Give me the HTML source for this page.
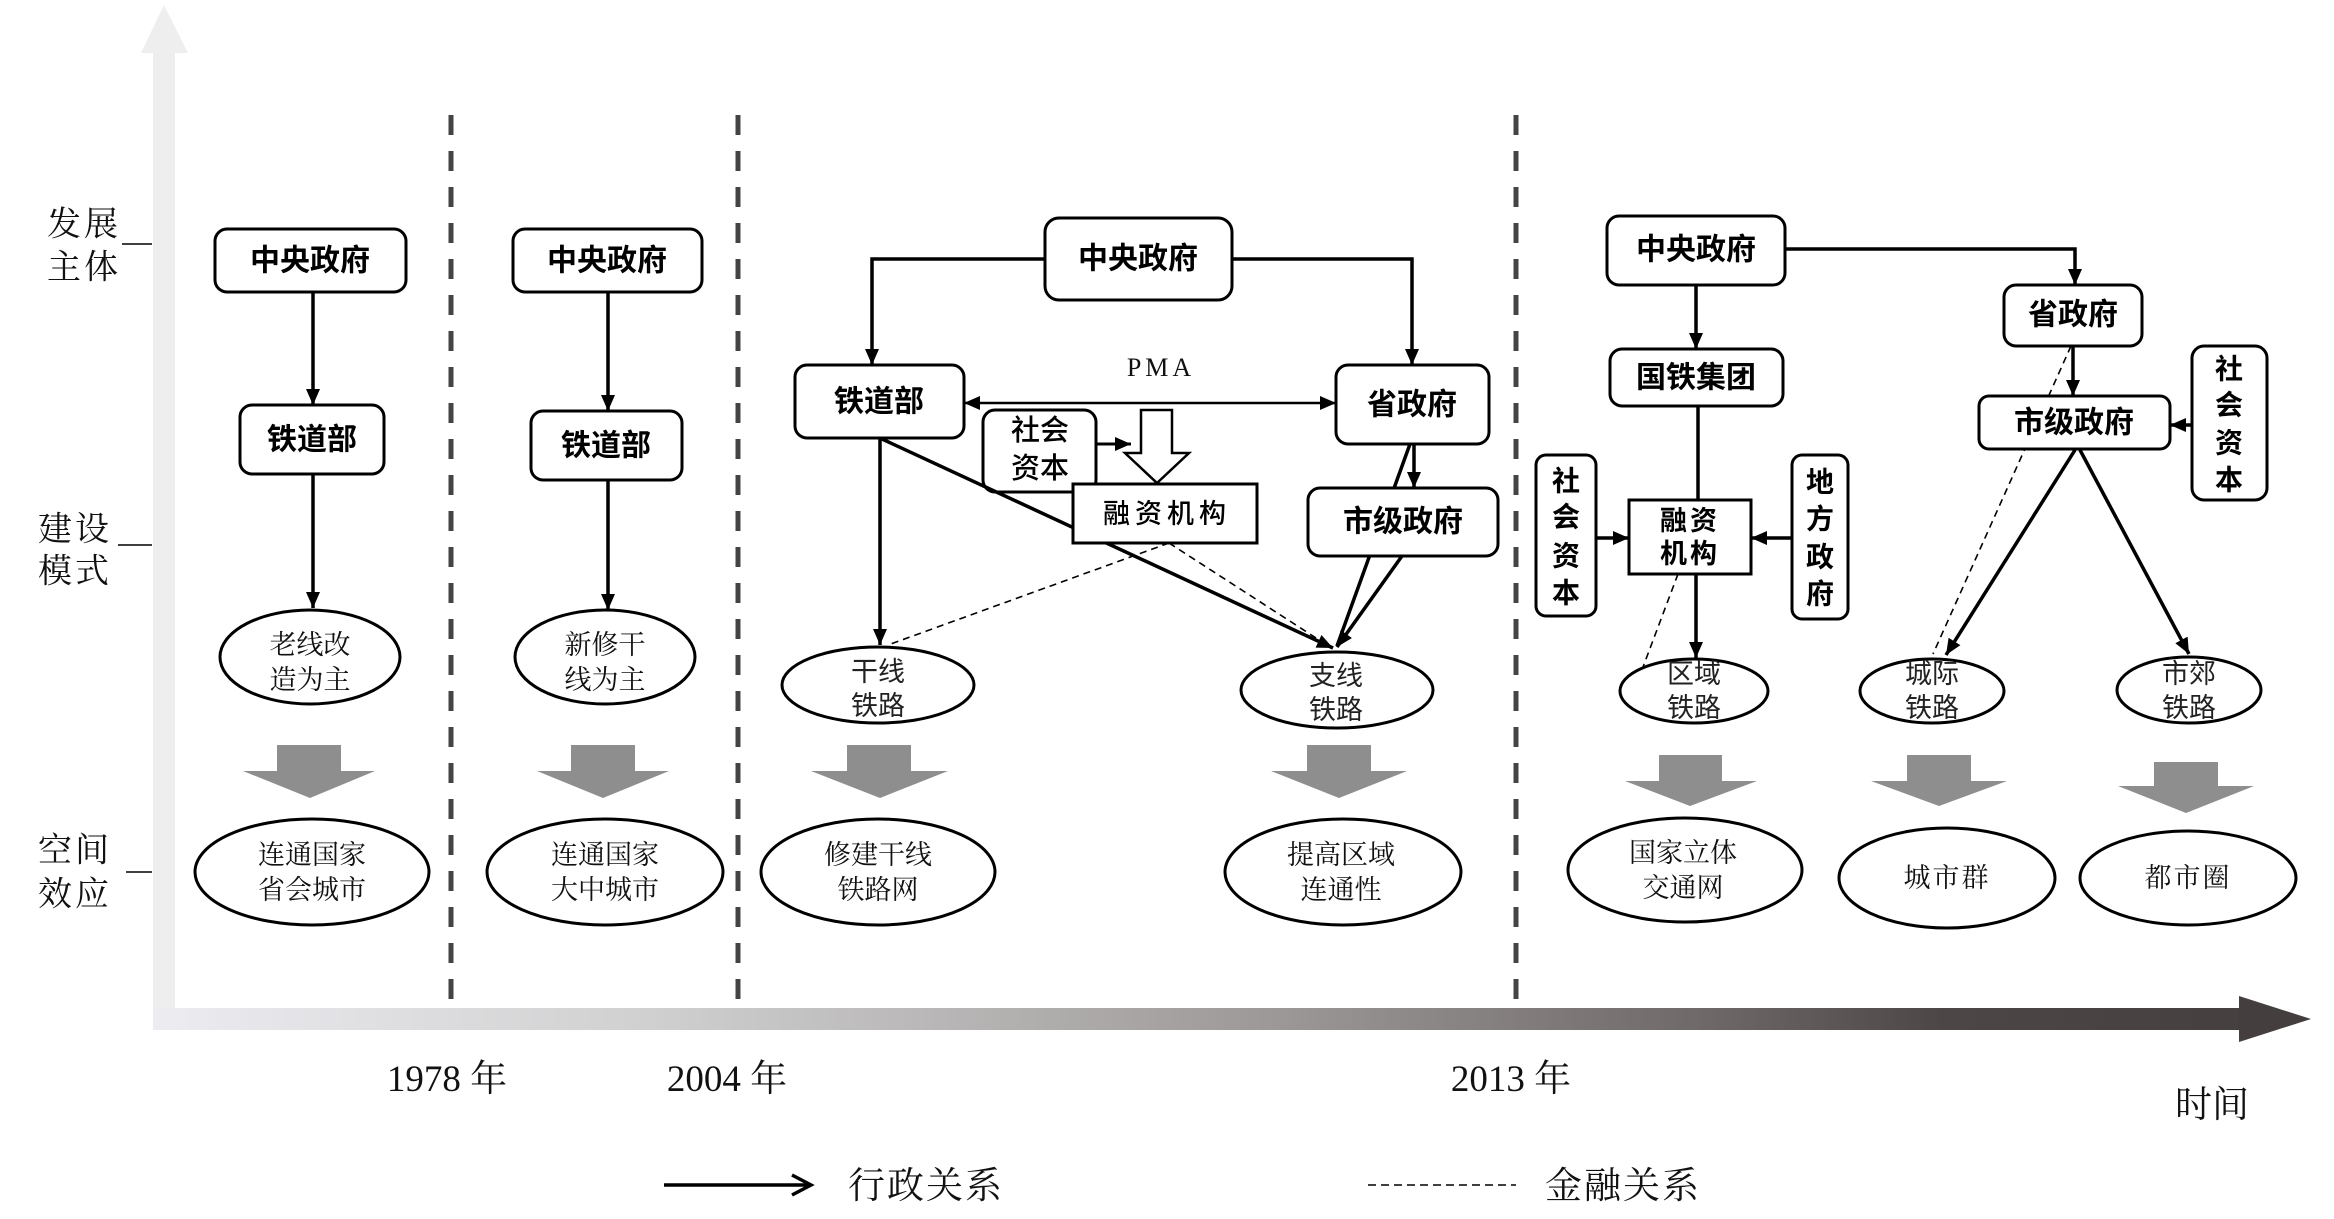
<!DOCTYPE html>
<html>
<head>
<meta charset="utf-8">
<style>
html,body{margin:0;padding:0;background:#fff;}
svg{display:block;}
.sans{font-family:"Liberation Sans","Noto Sans CJK SC","WenQuanYi Zen Hei",sans-serif;}
.serif{font-family:"Liberation Serif","Noto Serif CJK SC","Noto Sans CJK SC",serif;}
.bx{fill:#fff;stroke:#000;stroke-width:3;}
.el{fill:#fff;stroke:#000;stroke-width:3;}
.ln{stroke:#000;stroke-width:3.5;fill:none;}
.dl{stroke:#000;stroke-width:1.6;fill:none;stroke-dasharray:7 5;}
.sep{stroke:#444;stroke-width:5;stroke-dasharray:20 16;}
.bt{font-family:"Liberation Sans","Noto Sans CJK SC","WenQuanYi Zen Hei",sans-serif;font-weight:700;font-size:30px;fill:#000;text-anchor:middle;dominant-baseline:central;}
.mt{font-family:"Liberation Sans","Noto Sans CJK SC","WenQuanYi Zen Hei",sans-serif;font-weight:400;font-size:27px;fill:#222;text-anchor:middle;dominant-baseline:central;}
.st{font-family:"Liberation Serif","Noto Serif CJK SC","Noto Sans CJK SC",serif;font-size:27px;fill:#111;text-anchor:middle;dominant-baseline:central;}
.lt{font-family:"Liberation Serif","Noto Serif CJK SC","Noto Sans CJK SC",serif;font-size:34px;fill:#111;text-anchor:middle;dominant-baseline:central;letter-spacing:3px;}
.ga{fill:#8e8e8e;}
</style>
</head>
<body>
<svg width="2334" height="1219" viewBox="0 0 2334 1219" xmlns="http://www.w3.org/2000/svg">
<defs>
  <marker id="ah" markerUnits="userSpaceOnUse" markerWidth="16" markerHeight="14" refX="16" refY="7" orient="auto-start-reverse">
    <path d="M0,0 L16,7 L0,14 z" fill="#000"/>
  </marker>
  <linearGradient id="axg" x1="153" y1="0" x2="2311" y2="0" gradientUnits="userSpaceOnUse">
    <stop offset="0" stop-color="#ececf1"/>
    <stop offset="0.23" stop-color="#d0d0d0"/>
    <stop offset="0.52" stop-color="#9d9898"/>
    <stop offset="0.72" stop-color="#6e6868"/>
    <stop offset="0.83" stop-color="#4c4646"/>
    <stop offset="1" stop-color="#443e3e"/>
  </linearGradient>
</defs>

<!-- axes -->
<rect x="153" y="50" width="22" height="980" fill="#eeeeee"/>
<polygon points="141,53 164,5 188,53" fill="#eeeeee"/>
<rect x="153" y="1008" width="2087" height="22" fill="url(#axg)"/>
<polygon points="2239,996 2311,1019 2239,1042" fill="#443e3e"/>

<!-- separators -->
<line class="sep" x1="451" y1="115" x2="451" y2="1008"/>
<line class="sep" x1="738" y1="115" x2="738" y2="1008"/>
<line class="sep" x1="1516" y1="115" x2="1516" y2="1008"/>

<!-- left labels -->
<text class="lt" x="84" y="225">发展</text>
<text class="lt" x="84" y="268">主体</text>
<line x1="122" y1="244" x2="152" y2="244" stroke="#000" stroke-width="1.5"/>
<text class="lt" x="75" y="530">建设</text>
<text class="lt" x="75" y="572">模式</text>
<line x1="118" y1="545" x2="152" y2="545" stroke="#000" stroke-width="1.5"/>
<text class="lt" x="75" y="851">空间</text>
<text class="lt" x="75" y="895">效应</text>
<line x1="126" y1="872" x2="152" y2="872" stroke="#000" stroke-width="1.5"/>

<!-- ===== Column 1 ===== -->
<line class="ln" x1="313" y1="292" x2="313" y2="405" marker-end="url(#ah)"/>
<line class="ln" x1="313" y1="474" x2="313" y2="608" marker-end="url(#ah)"/>
<rect class="bx" x="215" y="229" width="191" height="63" rx="12"/>
<text class="bt" x="310" y="261">中央政府</text>
<rect class="bx" x="240" y="405" width="144" height="69" rx="12"/>
<text class="bt" x="312" y="440">铁道部</text>
<ellipse class="el" cx="310" cy="657" rx="90" ry="47"/>
<text class="st" x="310" y="645">老线改</text>
<text class="st" x="310" y="680">造为主</text>
<polygon class="ga" points="277,745 341,745 341,771 375,771 310,798 243,771 277,771"/>
<ellipse class="el" cx="312" cy="872" rx="117" ry="53"/>
<text class="st" x="312" y="855">连通国家</text>
<text class="st" x="312" y="890">省会城市</text>

<!-- ===== Column 2 ===== -->
<line class="ln" x1="608" y1="292" x2="608" y2="411" marker-end="url(#ah)"/>
<line class="ln" x1="608" y1="480" x2="608" y2="610" marker-end="url(#ah)"/>
<rect class="bx" x="513" y="229" width="189" height="63" rx="12"/>
<text class="bt" x="607" y="261">中央政府</text>
<rect class="bx" x="531" y="411" width="151" height="69" rx="12"/>
<text class="bt" x="606" y="446">铁道部</text>
<ellipse class="el" cx="605" cy="657" rx="90" ry="47"/>
<text class="st" x="605" y="645">新修干</text>
<text class="st" x="605" y="680">线为主</text>
<polygon class="ga" points="571,745 635,745 635,771 669,771 603,798 537,771 571,771"/>
<ellipse class="el" cx="605" cy="872" rx="118" ry="53"/>
<text class="st" x="605" y="855">连通国家</text>
<text class="st" x="605" y="890">大中城市</text>

<!-- ===== Column 3 ===== -->
<polyline class="ln" points="1045,259 872,259 872,365" marker-end="url(#ah)"/>
<polyline class="ln" points="1232,259 1412,259 1412,365" marker-end="url(#ah)"/>
<line class="ln" x1="880" y1="438" x2="880" y2="645" marker-end="url(#ah)"/>
<line class="ln" x1="1410" y1="444" x2="1337" y2="646"/>
<line class="ln" x1="1402" y1="556" x2="1337" y2="647" marker-end="url(#ah)"/>
<line class="dl" x1="1169" y1="543" x2="888" y2="645"/>
<line class="dl" x1="1169" y1="543" x2="1330" y2="647"/>
<line x1="964" y1="403" x2="1336" y2="403" stroke="#000" stroke-width="2.5" marker-start="url(#ah)" marker-end="url(#ah)"/>
<text x="1161" y="376" style="font-family:'Liberation Serif',serif;font-size:26px;letter-spacing:4px;fill:#111;" text-anchor="middle">PMA</text>

<rect class="bx" x="983" y="410" width="113" height="82" rx="12"/>
<text class="mt" x="1040" y="431" style="font-size:29px;fill:#000;font-weight:500">社会</text>
<text class="mt" x="1040" y="469" style="font-size:29px;fill:#000;font-weight:500">资本</text>
<line class="ln" x1="882" y1="439" x2="1333" y2="648" marker-end="url(#ah)"/>
<line x1="1096" y1="444" x2="1131" y2="444" stroke="#000" stroke-width="3" marker-end="url(#ah)"/>
<polygon points="1141,410 1172,410 1172,453 1189,453 1157,483 1125,453 1141,453" fill="#fff" stroke="#000" stroke-width="2.5"/>
<rect x="1073" y="484" width="184" height="59" fill="#fff" stroke="#000" stroke-width="3"/>
<text class="mt" x="1167" y="514" style="font-size:27px;fill:#000;font-weight:500;letter-spacing:5px">融资机构</text>

<rect class="bx" x="1045" y="218" width="187" height="82" rx="14"/>
<text class="bt" x="1138" y="259">中央政府</text>
<rect class="bx" x="795" y="365" width="169" height="73" rx="12"/>
<text class="bt" x="879" y="402">铁道部</text>
<rect class="bx" x="1336" y="365" width="153" height="79" rx="12"/>
<text class="bt" x="1412" y="405">省政府</text>
<line class="ln" x1="1414" y1="444" x2="1414" y2="488" marker-end="url(#ah)"/>
<rect class="bx" x="1308" y="488" width="190" height="68" rx="12"/>
<text class="bt" x="1403" y="522">市级政府</text>

<ellipse class="el" cx="878" cy="685" rx="96" ry="38"/>
<text class="mt" x="878" y="672">干线</text>
<text class="mt" x="878" y="706">铁路</text>
<ellipse class="el" cx="1337" cy="690" rx="96" ry="38"/>
<text class="mt" x="1336" y="676">支线</text>
<text class="mt" x="1336" y="710">铁路</text>

<polygon class="ga" points="847,745 911,745 911,771 948,771 880,798 811,771 847,771"/>
<polygon class="ga" points="1307,745 1371,745 1371,771 1407,771 1339,798 1271,771 1307,771"/>
<ellipse class="el" cx="878" cy="872" rx="117" ry="53"/>
<text class="st" x="878" y="855">修建干线</text>
<text class="st" x="878" y="890">铁路网</text>
<ellipse class="el" cx="1343" cy="872" rx="118" ry="53"/>
<text class="st" x="1341" y="855">提高区域</text>
<text class="st" x="1341" y="890">连通性</text>

<!-- ===== Column 4 ===== -->
<line class="ln" x1="1696" y1="285" x2="1696" y2="349" marker-end="url(#ah)"/>
<polyline class="ln" points="1785,249 2075,249 2075,285" marker-end="url(#ah)"/>
<line class="ln" x1="1698" y1="406" x2="1698" y2="500"/>
<line class="ln" x1="1596" y1="538" x2="1629" y2="538" marker-end="url(#ah)"/>
<line class="ln" x1="1792" y1="538" x2="1751" y2="538" marker-end="url(#ah)"/>
<line class="ln" x1="1696" y1="574" x2="1696" y2="658" marker-end="url(#ah)"/>
<line class="dl" x1="1678" y1="574" x2="1643" y2="667"/>
<line class="ln" x1="2073" y1="346" x2="2073" y2="396" marker-end="url(#ah)"/>
<line class="ln" x1="2192" y1="425" x2="2170" y2="425" marker-end="url(#ah)"/>
<line class="dl" x1="2071" y1="346" x2="1933" y2="654"/>
<line class="ln" x1="2075" y1="450" x2="1946" y2="655" marker-end="url(#ah)"/>
<line class="ln" x1="2080" y1="450" x2="2189" y2="654" marker-end="url(#ah)"/>

<rect class="bx" x="1607" y="216" width="178" height="69" rx="12"/>
<text class="bt" x="1696" y="250">中央政府</text>
<rect class="bx" x="1610" y="349" width="173" height="57" rx="12"/>
<text class="bt" x="1696" y="378">国铁集团</text>
<rect x="1629" y="500" width="122" height="74" fill="#fff" stroke="#000" stroke-width="3"/>
<text class="bt" x="1690" y="521" style="font-size:27px;letter-spacing:3px">融资</text>
<text class="bt" x="1690" y="554" style="font-size:27px;letter-spacing:3px">机构</text>
<rect class="bx" x="1536" y="455" width="60" height="161" rx="10"/>
<text class="bt" x="1566" y="481" style="font-size:28px">社</text>
<text class="bt" x="1566" y="517" style="font-size:28px">会</text>
<text class="bt" x="1566" y="556" style="font-size:28px">资</text>
<text class="bt" x="1566" y="593" style="font-size:28px">本</text>
<rect class="bx" x="1792" y="455" width="56" height="164" rx="10"/>
<text class="bt" x="1820" y="482" style="font-size:28px">地</text>
<text class="bt" x="1820" y="519" style="font-size:28px">方</text>
<text class="bt" x="1820" y="557" style="font-size:28px">政</text>
<text class="bt" x="1820" y="594" style="font-size:28px">府</text>

<rect class="bx" x="2004" y="285" width="138" height="61" rx="12"/>
<text class="bt" x="2073" y="315">省政府</text>
<rect class="bx" x="1979" y="396" width="191" height="53" rx="10"/>
<text class="bt" x="2074" y="423">市级政府</text>
<rect class="bx" x="2192" y="346" width="75" height="154" rx="12"/>
<text class="bt" x="2229" y="369" style="font-size:28px">社</text>
<text class="bt" x="2229" y="405" style="font-size:28px">会</text>
<text class="bt" x="2229" y="443" style="font-size:28px">资</text>
<text class="bt" x="2229" y="480" style="font-size:28px">本</text>

<ellipse class="el" cx="1694" cy="691" rx="74" ry="32"/>
<text class="mt" x="1694" y="674">区域</text>
<text class="mt" x="1694" y="708">铁路</text>
<ellipse class="el" cx="1932" cy="691" rx="72" ry="32"/>
<text class="mt" x="1932" y="674">城际</text>
<text class="mt" x="1932" y="708">铁路</text>
<ellipse class="el" cx="2189" cy="690" rx="72" ry="33"/>
<text class="mt" x="2189" y="674">市郊</text>
<text class="mt" x="2189" y="708">铁路</text>

<polygon class="ga" points="1659,755 1722,755 1722,781 1757,781 1690,806 1625,781 1659,781"/>
<polygon class="ga" points="1907,755 1971,755 1971,781 2007,781 1939,806 1871,781 1907,781"/>
<polygon class="ga" points="2154,762 2218,762 2218,786 2254,786 2186,813 2118,786 2154,786"/>

<ellipse class="el" cx="1685" cy="870" rx="117" ry="52"/>
<text class="st" x="1683" y="853">国家立体</text>
<text class="st" x="1683" y="888">交通网</text>
<ellipse class="el" cx="1947" cy="878" rx="108" ry="50"/>
<text class="st" x="1947" y="878" style="letter-spacing:2px">城市群</text>
<ellipse class="el" cx="2188" cy="878" rx="108" ry="47"/>
<text class="st" x="2188" y="878" style="letter-spacing:2px">都市圈</text>

<!-- years -->
<text class="serif" x="447" y="1091" text-anchor="middle" style="font-size:37px;fill:#111">1978 年</text>
<text class="serif" x="727" y="1091" text-anchor="middle" style="font-size:37px;fill:#111">2004 年</text>
<text class="serif" x="1511" y="1091" text-anchor="middle" style="font-size:37px;fill:#111">2013 年</text>
<text class="serif" x="2212" y="1117" text-anchor="middle" style="font-size:37px;fill:#111">时间</text>

<!-- legend -->
<line x1="664" y1="1185" x2="809" y2="1185" stroke="#000" stroke-width="3.5"/>
<polyline points="792,1175 811,1185 792,1195" fill="none" stroke="#000" stroke-width="3.5"/>
<text class="serif" x="926" y="1198" text-anchor="middle" style="font-size:37px;fill:#111;letter-spacing:2px">行政关系</text>
<line x1="1368" y1="1185" x2="1516" y2="1185" stroke="#000" stroke-width="1.6" stroke-dasharray="8 5"/>
<text class="serif" x="1623" y="1198" text-anchor="middle" style="font-size:37px;fill:#111;letter-spacing:2px">金融关系</text>
</svg>
</body>
</html>
